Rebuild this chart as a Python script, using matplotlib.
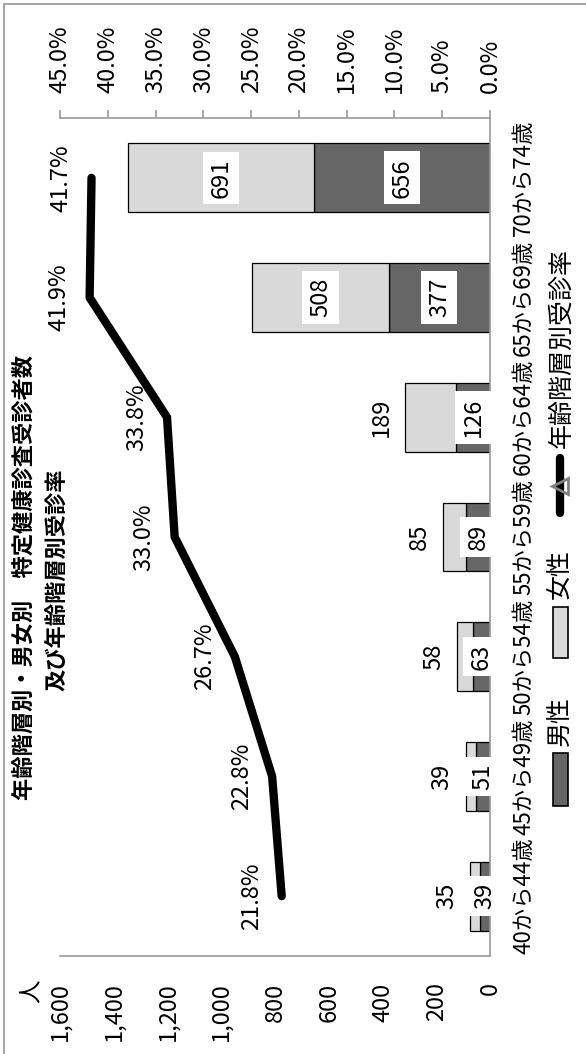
import matplotlib
matplotlib.use('Agg')
import matplotlib.pyplot as plt
from matplotlib.patches import Rectangle
from matplotlib.lines import Line2D
import numpy as np

# ---------------- data ----------------
categories = ['40から44歳', '45から49歳', '50から54歳', '55から59歳',
              '60から64歳', '65から69歳', '70から74歳']
male = [39, 51, 63, 89, 126, 377, 656]
female = [35, 39, 58, 85, 189, 508, 691]
rate = [21.8, 22.8, 26.7, 33.0, 33.8, 41.9, 41.7]
count_ticks = [0, 200, 400, 600, 800, 1000, 1200, 1400, 1600]
rate_ticks = [0, 5, 10, 15, 20, 25, 30, 35, 40, 45]
title_line1 = '年齢階層別・男女別　特定健康診査受診者数'
title_line2 = '及び年齢階層別受診率'
legend_labels = ['男性', '女性', '年齢階層別受診率']
y_unit = '人'

# ---------------- style ----------------
FONT = ['Liberation Sans Narrow', 'Noto Sans CJK JP', 'DejaVu Sans']
CJK = ['Noto Sans CJK JP', 'DejaVu Sans']
plt.rcParams['font.family'] = FONT
MALE_C = '#666666'
FEMALE_C = '#D9D9D9'
AXIS_C = '#9A9A9A'
NUM_FS = 17

W, H = 586, 1054
fig = plt.figure(figsize=(W / 100, H / 100), dpi=100)


def fx(px):
    return px / W


def fy(py):
    return 1 - py / H


ax = fig.add_axes([fx(60), fy(956), fx(490) - fx(60), fy(118) - fy(956)])
y = np.arange(len(categories))
bar_h = 0.575
ax.barh(y, male, height=bar_h, color=MALE_C, edgecolor='black', linewidth=0.9, zorder=2)
ax.barh(y, female, left=male, height=bar_h, color=FEMALE_C, edgecolor='black',
        linewidth=0.9, zorder=2)
ax.set_xlim(count_ticks[-1], 0)
ax.set_ylim(-0.5, len(categories) - 0.5)

ax.set_xticks(count_ticks)
ax.set_xticklabels([f'{v:,}' for v in count_ticks], rotation=90, fontsize=NUM_FS)
ax.tick_params(axis='x', length=0, pad=19)
ax.yaxis.tick_right()
ax.set_yticks(y)
ax.set_yticklabels(categories, rotation=90, va='center', fontsize=16)
ax.tick_params(axis='y', length=0, pad=16)
for s in ['left', 'top']:
    ax.spines[s].set_visible(False)
for s in ['right', 'bottom']:
    ax.spines[s].set_color(AXIS_C)
    ax.spines[s].set_linewidth(1.2)

# data labels for bars
box = dict(boxstyle='square,pad=0.28', fc='white', ec='none')
for yi, m, f in zip(y, male, female):
    ax.text(m / 2, yi, str(m), rotation=90, ha='center', va='center',
            fontsize=NUM_FS, bbox=box, zorder=4)
    if f >= 300:
        ax.text(m + f / 2, yi, str(f), rotation=90, ha='center', va='center',
                fontsize=NUM_FS, bbox=box, zorder=4)
    else:
        ax.annotate(str(f), (m + f, yi), xytext=(-17, 0), textcoords='offset points',
                    rotation=90, ha='center', va='center', fontsize=NUM_FS, zorder=4)

# secondary (rate) axis on top
ax2 = ax.twiny()
ax2.set_xlim(rate_ticks[-1], 0)
ax2.set_xticks(rate_ticks)
ax2.set_xticklabels([f'{v:.1f}%' for v in rate_ticks], rotation=90, fontsize=NUM_FS)
ax2.tick_params(axis='x', length=6, width=1.2, color=AXIS_C, direction='out', pad=12)
for s in ['left', 'right', 'bottom']:
    ax2.spines[s].set_visible(False)
ax2.spines['top'].set_color(AXIS_C)
ax2.spines['top'].set_linewidth(1.2)
ax2.plot(rate, y, color='black', lw=6, solid_capstyle='round',
         solid_joinstyle='round', zorder=3)
for yi, r in zip(y, rate):
    ax2.annotate(f'{r:.1f}%', (r, yi), xytext=(-22, 0), textcoords='offset points',
                 rotation=90, ha='center', va='center', fontsize=NUM_FS)

# unit label
fig.text(fx(31), fy(979), y_unit, rotation=90, ha='center', va='top', fontsize=NUM_FS,
         family=CJK)

# title
fig.text(fx(24), fy(578), title_line1, rotation=90, ha='center', va='center',
         fontsize=16, fontweight='bold', family=CJK)
fig.text(fx(57), fy(580), title_line2, rotation=90, ha='center', va='center',
         fontsize=16, fontweight='bold', family=CJK)

# manual (rotated) legend
fig.add_artist(Rectangle((fx(553), fy(806)), fx(568) - fx(553), fy(753) - fy(806),
                         transform=fig.transFigure, fc=MALE_C, ec='black', lw=1.2))
fig.add_artist(Rectangle((fx(553), fy(658)), fx(568) - fx(553), fy(607) - fy(658),
                         transform=fig.transFigure, fc=FEMALE_C, ec='black', lw=1.2))
fig.add_artist(Line2D([fx(560), fx(560)], [fy(513), fy(458)], transform=fig.transFigure,
                      color='black', lw=6, solid_capstyle='round'))
fig.add_artist(Line2D([fx(560)], [fy(486)], transform=fig.transFigure, marker='<',
                      ms=12, mfc='none', mec='#808080', mew=2, ls='none'))
fig.text(fx(561), fy(721), legend_labels[0], rotation=90, ha='center', va='center',
         fontsize=18, family=CJK)
fig.text(fx(561), fy(574), legend_labels[1], rotation=90, ha='center', va='center',
         fontsize=18, family=CJK)
fig.text(fx(561), fy(348), legend_labels[2], rotation=90, ha='center', va='center',
         fontsize=18, family=CJK)

# chart-area border
fig.add_artist(Rectangle((fx(4), -0.05), 1.2, fy(4) + 0.05, transform=fig.transFigure,
                         fill=False, ec='#A6A6A6', lw=1.5))

fig.savefig('out.png', dpi=100)
